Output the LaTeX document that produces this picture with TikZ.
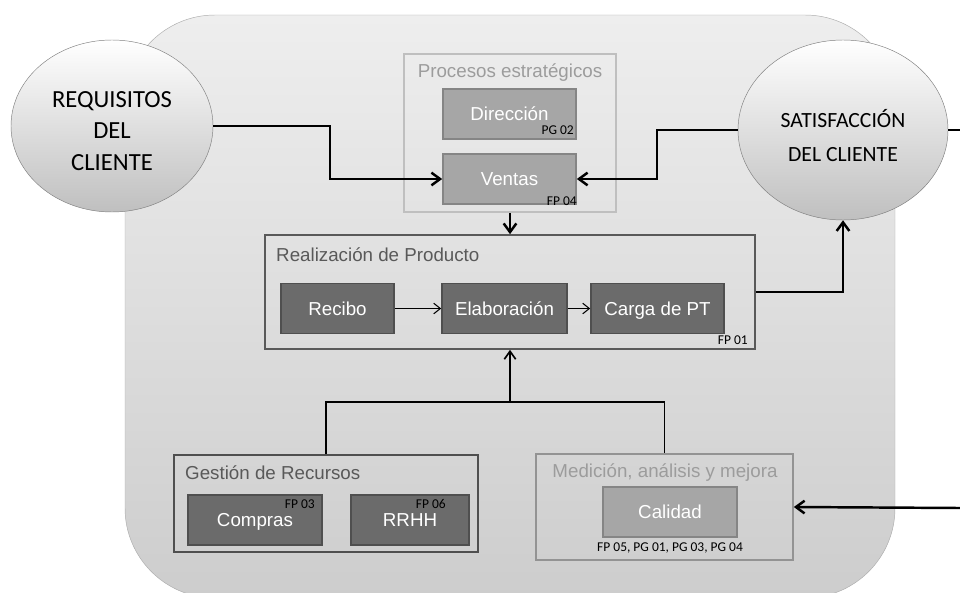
\documentclass[tikz,border=0pt]{standalone}
\usepackage{fontspec}
\setmainfont{Liberation Sans}
\newfontfamily\calib{Carlito}
\usepackage{xcolor}
\usetikzlibrary{arrows.meta,shapes.geometric}
\definecolor{fondoarriba}{HTML}{EEEEEE}
\definecolor{fondoabajo}{HTML}{CDCDCD}
\definecolor{bordefondo}{HTML}{ADADAD}
\definecolor{oscuro}{HTML}{6B6B6B}
\definecolor{bordeoscuro}{HTML}{4F4F4F}
\definecolor{claro}{HTML}{A6A6A6}
\definecolor{bordeclaro}{HTML}{858585}
\definecolor{grisclaro}{HTML}{9C9C9C}
\definecolor{grisoscuro}{HTML}{595959}

\begin{document}
\begin{tikzpicture}[x=0.03cm,y=-0.03cm]
		\tikzstyle{elipse}=[draw=gray,ellipse,align=center,top color=white,bottom color=gray!50,inner sep=0pt]
		\tikzstyle{grupo}=[draw,line width=1.4pt,rectangle,inner sep=0pt]
		\tikzstyle{caja}=[line width=1.4pt,rectangle,inner sep=0pt,minimum height=1.5cm,text height=11.5pt,text depth=0pt,text=white,font=\fontsize{16}{19}\selectfont]
		\tikzstyle{cajaoscura}=[caja,fill=oscuro,draw=bordeoscuro]
		\tikzstyle{cajaclara}=[caja,fill=claro,draw=bordeclaro]
		\tikzstyle{titulo}=[inner sep=0pt,font=\fontsize{16}{19}\selectfont]
		\tikzstyle{etiq}=[inner sep=0pt,font=\calib\fontsize{11.5}{13}\selectfont]
		\tikzstyle{flecha}=[line width=2.1pt,-{Straight Barb[length=2.6mm,width=3.8mm]}]
		\tikzstyle{fina}=[line width=0.9pt,-{Straight Barb[length=2mm,width=3.2mm]}]
		\clip (0,0) rectangle (960,592);
		% fondo
		\draw[bordefondo,top color=fondoarriba,bottom color=fondoabajo,rounded corners=2.7cm] (125,15) rectangle (895,598);
		\node[elipse,minimum width=6.06cm,minimum height=5.16cm,font=\calib\fontsize{21}{27}\selectfont] (req) at (112,126) {\rule{0pt}{22pt}REQUISITOS\\DEL\\CLIENTE};
		\node[elipse,minimum width=6.3cm,minimum height=5.4cm,font=\calib\fontsize{18.5}{29}\selectfont] (sat) at (843,130) {\rule{0pt}{25pt}SATISFACCIÓN\\DEL CLIENTE};
		% procesos estrategicos
		\node[grupo,draw=gray!50,minimum width=6.36cm,minimum height=4.74cm] (pe) at (510,133) {};
		\node[titulo,text=grisclaro] (tpe) at (510,73) {Procesos estratégicos};
		\node[cajaclara,minimum width=3.99cm] (dir) at (509.5,114) {Dirección};
		\node[cajaclara,minimum width=3.99cm] (ven) at (509.5,179) {Ventas};
		\node[etiq,anchor=east] (l1) at (574,130) {PG 02};
		\node[etiq,anchor=east] (l2) at (577,201) {FP 04};
		% realizacion
		\node[grupo,draw=grisoscuro,minimum width=14.7cm,minimum height=3.42cm] (rp) at (510,292) {};
		\node[titulo,text=grisoscuro,anchor=west] (trp) at (276,255) {Realización de Producto};
		\node[cajaoscura,minimum width=3.39cm] (rec) at (337.5,308.5) {Recibo};
		\node[cajaoscura,minimum width=3.75cm] (ela) at (504.5,308.5) {Elaboración};
		\node[cajaoscura,minimum width=3.99cm] (car) at (657.5,308.5) {Carga de PT};
		\node[etiq,anchor=east] (l3) at (748,340) {FP 01};
		% recursos
		\node[grupo,draw=bordeoscuro,minimum width=9.12cm,minimum height=2.91cm] (gr) at (326,503.5) {};
		\node[titulo,text=grisoscuro,anchor=west] (tgr) at (185,473) {Gestión de Recursos};
		\node[cajaoscura,minimum width=4.02cm] (com) at (255,520) {Compras};
		\node[cajaoscura,minimum width=3.54cm] (rrh) at (410,520) {RRHH};
		\node[etiq,anchor=east] (l4) at (315,504) {FP 03};
		\node[etiq,anchor=east] (l5) at (446,504) {FP 06};
		% medicion
		\node[grupo,draw=gray!85,minimum width=7.71cm,minimum height=3.18cm] (me) at (664.5,507) {};
		\node[titulo,text=grisclaro] (tme) at (665,473) {Medición, análisis y mejora};
		\node[cajaclara,minimum width=4.02cm] (cal) at (670,512) {Calidad};
		\node[etiq] (l6) at (670,548) {FP 05, PG 01, PG 03, PG 04};
		% conectores
		\coordinate (j) at (510,402);
		\coordinate (s1) at (960,130);
		\coordinate (s2) at (960,508);
		\draw[flecha] (req.east) -- ++(117,0) |- (ven.west);
		\draw[flecha] (sat.west) -- ++(-81,0) |- (ven.east);
		\draw[flecha] (pe.south) -- (rp.north);
		\draw[flecha] (rp.east) -| (sat.south);
		\draw[line width=1.4pt] (gr.north) |- (j) -| (me.north);
		\draw[line width=1.4pt,-{Straight Barb[length=2.4mm,width=3.4mm]}] (j) -- (rp.south);
		\draw[line width=2.1pt] (sat.east) -- (s1);
		\draw[flecha] (s2) -- (me.east);
		\draw[fina] (rec) -- (ela);
		\draw[fina] (ela) -- (car);
\end{tikzpicture}
\end{document}
